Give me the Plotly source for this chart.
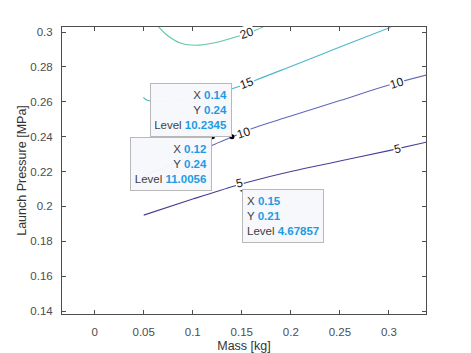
import plotly.graph_objects as go

# Contour lines (Mass [kg], Launch Pressure [MPa])
c5_x = [0.05, 0.10, 0.1415, 0.156, 0.20, 0.25, 0.30, 0.338]
c5_y = [0.195, 0.2042, 0.2116, 0.2139, 0.220, 0.226, 0.232, 0.2368]

c10_x = [0.05, 0.08, 0.10, 0.12, 0.1385, 0.1606, 0.20, 0.25, 0.30, 0.3385]
c10_y = [0.2175, 0.2245, 0.2300, 0.2351, 0.2395, 0.2447, 0.2518, 0.2607, 0.2696, 0.2754]

c15_x = [0.0497, 0.0538, 0.08, 0.10, 0.12, 0.1415, 0.164, 0.20, 0.25, 0.3018]
c15_y = [0.2626, 0.2609, 0.2605, 0.262, 0.2645, 0.2678, 0.2724, 0.2803, 0.2914, 0.3027]

c20_x = [0.0653, 0.0739, 0.0875, 0.1028, 0.121, 0.1385, 0.1555, 0.164, 0.172]
c20_y = [0.303, 0.2982, 0.2937, 0.2924, 0.2937, 0.2963, 0.2992, 0.301, 0.303]

# contour labels: (text, x, y, angle)
label_text = ["20", "15", "10", "10", "5", "5"]
label_x = [0.1555, 0.1556, 0.1518, 0.3086, 0.1477, 0.3086]
label_y = [0.2992, 0.2706, 0.2420, 0.2707, 0.2133, 0.2332]
label_ang = [-20, -21, -18, -18, -13, -12]

# data tips
tip_x = [0.14, 0.12, 0.15]
tip_y = [0.24, 0.24, 0.21]
tip_level = ["10.2345", "11.0056", "4.67857"]

x_ticks = [0, 0.05, 0.1, 0.15, 0.2, 0.25, 0.3]
x_ticklabels = ["0", "0.05", "0.1", "0.15", "0.2", "0.25", "0.3"]
y_ticks = [0.14, 0.16, 0.18, 0.2, 0.22, 0.24, 0.26, 0.28, 0.3]
y_ticklabels = ["0.14", "0.16", "0.18", "0.2", "0.22", "0.24", "0.26", "0.28", "0.3"]

colors = {"5": "#463f93", "10": "#6466bb", "15": "#4db6c8", "20": "#60c8a6"}
FONT = "Liberation Sans, Arial"

fig = go.Figure()
for xs, ys, key in [(c5_x, c5_y, "5"), (c10_x, c10_y, "10"), (c15_x, c15_y, "15"), (c20_x, c20_y, "20")]:
    fig.add_trace(go.Scatter(x=xs, y=ys, mode="lines", line=dict(color=colors[key], width=1.1),
                             line_shape="spline", showlegend=False, hoverinfo="skip"))

fig.add_trace(go.Scatter(x=tip_x, y=tip_y, mode="markers",
                         marker=dict(color="black", size=5), showlegend=False, hoverinfo="skip"))

annotations = []
for t, x, y, a in zip(label_text, label_x, label_y, label_ang):
    annotations.append(dict(x=x, y=y, xref="x", yref="y", text=t, showarrow=False,
                            textangle=a, font=dict(size=12, color="#1a1a1a", family=FONT),
                            bgcolor="white", borderpad=0))

val_col = "#1e9be3"
lab_col = "#404040"
tip_style = [("right", "right", "bottom"), ("right", "right", "top"), ("left", "left", "top")]
for (align, xa, ya), x, y, lv in zip(tip_style, tip_x, tip_y, tip_level):
    txt = (f"<span style='color:{lab_col}'>X </span><b style='color:{val_col}'>{x:g}</b><br>"
           f"<span style='color:{lab_col}'>Y </span><b style='color:{val_col}'>{y:g}</b><br>"
           f"<span style='color:{lab_col}'>Level </span><b style='color:{val_col}'>{lv}</b>")
    annotations.append(dict(x=x, y=y, xref="x", yref="y", text=txt, showarrow=False,
                            xanchor=xa, yanchor=ya, align=align, width=72, height=44,
                            font=dict(size=11.5, family=FONT),
                            bgcolor="rgba(247,248,252,0.97)", bordercolor="#b8b8b8",
                            borderwidth=1, borderpad=4))

axis_common = dict(showline=True, linecolor="#4d4d4d", linewidth=1, mirror="ticks",
                   ticks="inside", ticklen=4, tickcolor="#4d4d4d", showgrid=False, zeroline=False,
                   tickfont=dict(size=11.5, color="#4d4d4d", family=FONT))

fig.update_layout(
    width=471, height=353,
    margin=dict(l=62, r=45, t=27, b=39),
    paper_bgcolor="white", plot_bgcolor="white",
    xaxis=dict(range=[-0.0333, 0.3378], tickvals=x_ticks, ticktext=x_ticklabels,
               title=dict(text="Mass [kg]", font=dict(size=12.5, color="#333333", family=FONT), standoff=6),
               ticklabelstandoff=7, automargin=False, **axis_common),
    yaxis=dict(range=[0.1383, 0.3029], tickvals=y_ticks, ticktext=y_ticklabels,
               title=dict(text="Launch Pressure [MPa]", font=dict(size=12.5, color="#333333", family=FONT), standoff=0),
               ticklabelstandoff=6, automargin=False, **axis_common),
    annotations=annotations,
)

fig.write_html("out.html")
